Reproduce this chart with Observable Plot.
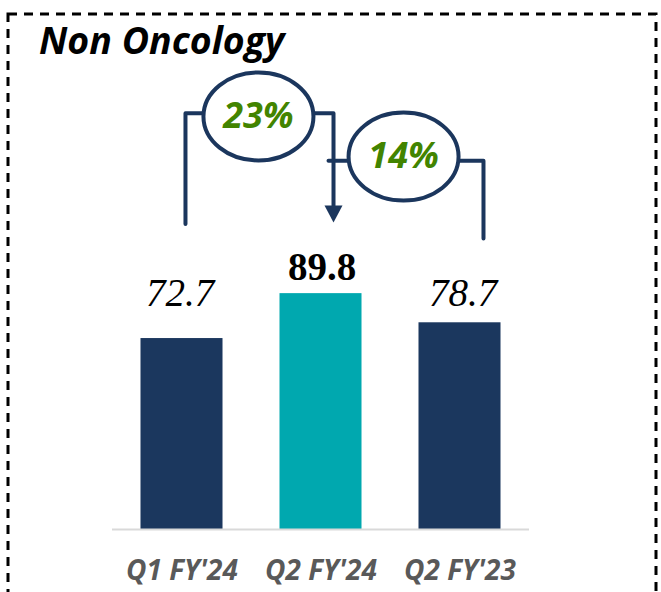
<!DOCTYPE html>
<html>
<head>
<meta charset="utf-8">
<script src="https://cdn.jsdelivr.net/npm/d3@7"></script>
<script src="https://cdn.jsdelivr.net/npm/@observablehq/plot@0.6"></script>
<style>
  html, body { margin: 0; padding: 0; background: #fff; }
  #wrap { position: relative; width: 661px; height: 592px; overflow: hidden; }
  #wrap > svg { position: absolute; left: 0; top: 0; }
</style>
</head>
<body>
<div id="wrap">
  <div id="chart"></div>
  <svg id="deco" width="661" height="592">
    <rect x="8" y="14" width="648" height="700" fill="none" stroke="#000" stroke-width="3" stroke-dasharray="9 7"></rect>
    <text x="39" y="54" font-family="Open Sans" font-weight="bold" font-style="italic" font-size="37.5" fill="#000">Non Oncology</text>
  </svg>
</div>
<script>
// ---- data ----
const categories = ["Q1 FY'24", "Q2 FY'24", "Q2 FY'23"];
const values = [72.7, 89.8, 78.7];
const barColors = ["#1b375e", "#00a8af", "#1b375e"];
const changeLabels = ["23%", "14%"];

const data = categories.map((c, i) => ({ i, category: c, value: values[i] }));

const navy = "#1b365d";
const green = "#428400";
const halfBar = 0.295; // half bar width in category units

// ellipse symbol for the change badges
const ellipse = {
  draw(context) {
    const rx = 55, ry = 44, k = 0.5523;
    context.moveTo(rx, 0);
    context.bezierCurveTo(rx, ry * k, rx * k, ry, 0, ry);
    context.bezierCurveTo(-rx * k, ry, -rx, ry * k, -rx, 0);
    context.bezierCurveTo(-rx, -ry * k, -rx * k, -ry, 0, -ry);
    context.bezierCurveTo(rx * k, -ry, rx, -ry * k, rx, 0);
    context.closePath();
  }
};
// downward arrow head with tip at the anchor
const arrowHead = {
  draw(context) {
    context.moveTo(-9, -17);
    context.lineTo(9, -17);
    context.lineTo(0, 0);
    context.closePath();
  }
};

// annotation geometry (data space: x in category units, y in value units)
const yTop1 = values[1] * 1.765;     // level of first bracket
const yTop2 = values[1] * 1.563;     // level of second bracket
const bracket1 = [
  { x: 0.025, y: values[0] * 1.6 },
  { x: 0.025, y: yTop1 },
  { x: 1.09, y: yTop1 },
  { x: 1.09, y: values[1] * 1.373 }
];
const arrowTip = [{ x: 1.09, y: values[1] * 1.302 }];
const bracket2 = [
  { x: 1.054, y: yTop2 },
  { x: 2.169, y: yTop2 },
  { x: 2.169, y: values[2] * 1.408 }
];
const badges = [
  { x: 0.55, y: values[1] * 1.751, label: changeLabels[0] },
  { x: 1.594, y: values[1] * 1.581, label: changeLabels[1] }
];

const valueLabel = (idx, dy, dx, style) =>
  Plot.text(data.filter(d => d.i === idx), {
    x: "i", y: "value", text: d => d.value.toFixed(1),
    dy, dx, lineAnchor: "bottom",
    fontFamily: "Liberation Serif", fontSize: 39, fill: "#000",
    ...style
  });

const chart = Plot.plot({
  width: 661,
  height: 592,
  marginLeft: 112,
  marginRight: 132,
  marginTop: 0,
  marginBottom: 63,
  x: { type: "linear", domain: [-0.5, 2.5], axis: null },
  y: { domain: [0, 201.4], axis: null },
  style: { background: "transparent", overflow: "visible" },
  marks: [
    Plot.rectY(data, {
      x1: d => d.i - halfBar, x2: d => d.i + halfBar,
      y1: 0, y2: "value",
      fill: (d) => barColors[d.i]
    }),
    Plot.ruleY([0], { stroke: "#d9d9d9", strokeWidth: 2 }),
    Plot.text(data, {
      x: "i", y: 0, text: "category",
      dy: 50, lineAnchor: "bottom",
      fontFamily: "Open Sans", fontSize: 28, fontWeight: "bold", fontStyle: "italic",
      fill: "#595959"
    }),
    valueLabel(0, -33, -2, { fontStyle: "italic" }),
    valueLabel(1, -14, 1, { fontWeight: "bold" }),
    valueLabel(2, -17, 3, { fontStyle: "italic" }),
    Plot.line(bracket1, { x: "x", y: "y", stroke: navy, strokeWidth: 4, curve: "linear" }),
    Plot.dot(arrowTip, { x: "x", y: "y", symbol: arrowHead, fill: navy, stroke: null, r: 10 }),
    Plot.line(bracket2, { x: "x", y: "y", stroke: navy, strokeWidth: 4, curve: "linear" }),
    Plot.dot(badges, { x: "x", y: "y", symbol: ellipse, r: 40, fill: "#fff", stroke: navy, strokeWidth: 4 }),
    Plot.text(badges, {
      x: "x", y: "y", text: "label",
      fontFamily: "Open Sans", fontSize: 36, fontWeight: "bold", fontStyle: "italic",
      fill: green
    })
  ]
});
document.getElementById("chart").appendChild(chart);
</script>
</body>
</html>
